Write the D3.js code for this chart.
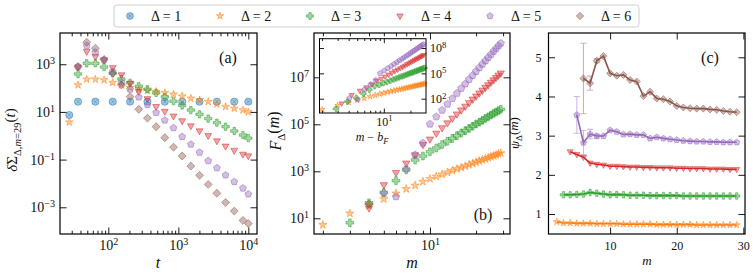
<!DOCTYPE html>
<html>
<head>
<meta charset="utf-8">
<script src="https://cdn.jsdelivr.net/npm/d3@7"></script>
<style>
body { margin: 0; background: #fff; }
svg text { font-family: "Liberation Serif", "DejaVu Serif", serif !important; fill: #111; }
</style>
</head>
<body>
<div id="chart"></div>
<script>
// ---- data ----
const deltaLabels = ["Δ = 1", "Δ = 2", "Δ = 3", "Δ = 4", "Δ = 5", "Δ = 6"];
const colors = ["#1f77b4", "#ff7f0e", "#2ca02c", "#d62728", "#9467bd", "#8c564b"];
const shapes = ["circle", "star", "plus", "tri", "pent", "diam"];

// panel (a): time grid and log10 of deltaSigma for each Delta
const tGrid = [27.7, 36.9, 49.1, 65.3, 86.9, 115.6, 153.8, 204.6, 272.3, 362.2, 482, 641,
               853, 1135, 1510, 2009, 2673, 3556, 4732, 6295, 8375, 10000];
const sigmaD1 = [0.87, 1.43, null, 1.43, null, 1.43, null, 1.43, null, 1.43, null, 1.43,
                 null, 1.43, null, 1.43, null, 1.43, null, 1.43, null, 1.43];
const sigmaD2 = [0.57, 2.13, 2.37, 2.37, 2.34, 2.23, 2.13, 2.02, 1.95, 1.9, 1.85, 1.8,
                 1.74, 1.66, 1.57, 1.5, 1.43, 1.33, 1.22, 1.15, 1.08, 1.0];
const sigmaD3 = [null, 2.59, 3.04, 3.04, 2.88, 2.62, 2.38, 2.22, 2.08, 1.95, 1.8, 1.63,
                 1.45, 1.27, 1.08, 0.9, 0.72, 0.55, 0.38, 0.2, 0.03, -0.1];
const sigmaD4 = [null, 2.88, 3.53, 3.32, 3.18, 2.85, 2.55, 2.2, 1.85, 1.55, 1.22, 1.02,
                 0.82, 0.62, 0.41, 0.2, 0.0, -0.22, -0.44, -0.62, -0.78, -0.85];
const sigmaD5 = [null, 2.9, 3.78, 3.5, 3.18, 2.7, 2.25, 1.95, 1.62, 1.3, 0.97, 0.65,
                 0.33, -0.04, -0.36, -0.7, -1.05, -1.35, -1.65, -1.93, -2.2, -2.45];
const sigmaD6 = [null, 2.9, 3.92, 3.67, 3.2, 2.62, 2.13, 1.64, 1.11, 0.74, 0.38, -0.08,
                 -0.48, -0.85, -1.27, -1.66, -2.04, -2.41, -2.8, -3.16, -3.55, -3.68];

// panel (b): m = 2..29, log10 F_Delta(m)
const mValues = [2, 3, 4, 5, 6, 7, 8, 9, 10, 11, 12, 13, 14, 15, 16, 17, 18, 19, 20, 21, 22, 23, 24, 25, 26, 27, 28, 29];
const logF2 = [0.72, 1.21, 1.55, 1.82, 2.06, 2.25, 2.4, 2.56, 2.68, 2.78, 2.87, 2.95, 3.03, 3.10,
               3.16, 3.22, 3.28, 3.34, 3.39, 3.44, 3.49, 3.53, 3.58, 3.62, 3.66, 3.70, 3.74, 3.77];
const logF3 = [null, 0.81, 1.66, 2.1, 2.6, 3.06, 3.48, 3.65, 3.83, 3.99, 4.14, 4.28, 4.40, 4.52,
               4.63, 4.73, 4.83, 4.92, 5.01, 5.09, 5.17, 5.25, 5.32, 5.39, 5.46, 5.52, 5.58, 5.64];
const logF4 = [null, null, 1.43, 2.42, 2.94, 3.34, 3.69, 4.13, 4.36, 4.61, 4.84, 5.05, 5.25, 5.43,
               5.60, 5.76, 5.91, 6.06, 6.19, 6.32, 6.44, 6.56, 6.67, 6.78, 6.88, 6.98, 7.08, 7.17];
const logF5 = [null, null, null, 2.06, 1.92, 3.1, 3.7, 4.2, 5.01, 5.32, 5.60, 5.86, 6.10, 6.32,
               6.53, 6.72, 6.91, 7.08, 7.25, 7.41, 7.56, 7.70, 7.84, 7.97, 8.10, 8.22, 8.34, 8.45];
const logF6 = [null, null, 1.6, null, null, null, null, null, null, null, null, null, null, null,
               null, null, null, null, null, null, null, null, null, null, null, null, null, null];
// inset shift b_F for Delta = 2..5
const bF = [0, 0.13, 0.67, 0.93];

// panel (c): psi_Delta(m), m = 2..29, and error bars
const psi2 = [0.80, 0.77, 0.77, 0.76, 0.76, 0.76, 0.75, 0.75, 0.75, 0.75, 0.74, 0.74, 0.74, 0.74,
              0.74, 0.73, 0.73, 0.73, 0.73, 0.73, 0.73, 0.72, 0.72, 0.72, 0.72, 0.72, 0.72, 0.72];
const psi3 = [null, 1.49, 1.49, 1.50, 1.51, 1.55, 1.53, 1.51, 1.49, 1.50, 1.49, 1.48, 1.48, 1.48,
              1.47, 1.47, 1.47, 1.47, 1.47, 1.46, 1.46, 1.46, 1.46, 1.46, 1.46, 1.46, 1.46, 1.46];
const psi4 = [null, null, 2.59, 2.52, 2.45, 2.30, 2.27, 2.25, 2.22, 2.22, 2.21, 2.20, 2.20, 2.19,
              2.19, 2.18, 2.18, 2.18, 2.17, 2.17, 2.16, 2.16, 2.16, 2.15, 2.15, 2.15, 2.14, 2.14];
const psi5 = [null, null, null, 3.53, 2.82, 3.04, 2.99, 2.99, 3.14, 3.10, 3.03, 3.04, 3.02, 3.02,
              2.93, 2.96, 2.93, 2.91, 2.89, 2.87, 2.86, 2.85, 2.85, 2.84, 2.84, 2.83, 2.83, 2.83];
const psi6 = [null, null, null, null, 4.46, 4.34, 4.91, 5.03, 4.59, 4.53, 4.55, 4.42, 4.38, 4.01,
              4.12, 3.95, 3.93, 3.87, 3.76, 3.72, 3.70, 3.69, 3.69, 3.67, 3.66, 3.63, 3.61, 3.60];
const psiErr5 = [0, 0, 0, 0.47, 0.31, 0.12, 0.05, 0, 0, 0, 0, 0, 0, 0, 0, 0, 0, 0, 0, 0, 0, 0, 0, 0, 0, 0, 0, 0];
const psiErr6 = [0, 0, 0, 0, 0.9, 0.18, 0.05, 0, 0, 0, 0, 0, 0, 0, 0, 0, 0, 0, 0, 0, 0, 0, 0, 0, 0, 0, 0, 0];

// ---- drawing ----
const svg = d3.select("#chart").append("svg")
    .attr("width", 753)
    .attr("height", 276)
    .attr("font-family", "'Liberation Serif', serif");

function markerPath(kind, r) {
    if (kind === "circle") return d3.symbol(d3.symbolCircle, Math.PI * r * r)();
    if (kind === "star") return d3.symbol(d3.symbolStar, (r * 1.15) * (r * 1.15) / 0.8908)();
    if (kind === "plus") return d3.symbol(d3.symbolCross, 2.3 * r * r)();
    let pts;
    if (kind === "tri") pts = [[0, r * 1.05], [-r * 0.95, -r * 0.6], [r * 0.95, -r * 0.6]];
    if (kind === "pent") pts = d3.range(5).map(i => {
        const a = -Math.PI / 2 + i * 2 * Math.PI / 5;
        return [r * Math.cos(a), r * Math.sin(a)];
    });
    if (kind === "diam") pts = [[0, -r * 1.1], [r * 1.1, 0], [0, r * 1.1], [-r * 1.1, 0]];
    return "M" + pts.map(p => p.join(",")).join("L") + "Z";
}

function drawMarkers(g, pts, i, r) {
    const sel = g.append("g");
    sel.selectAll("path").data(pts).join("path")
        .attr("d", markerPath(shapes[i], r))
        .attr("transform", p => `translate(${p[0]},${p[1]})`)
        .attr("fill", colors[i]).attr("fill-opacity", 0.42)
        .attr("stroke", colors[i]).attr("stroke-opacity", 0.5).attr("stroke-width", 1);
    if (shapes[i] === "circle") {
        const c = r * 0.55;
        sel.selectAll(".x").data(pts).join("path").attr("class", "x")
            .attr("d", `M${-c},${-c}L${c},${c}M${-c},${c}L${c},${-c}`)
            .attr("transform", p => `translate(${p[0]},${p[1]})`)
            .attr("stroke", colors[i]).attr("stroke-opacity", 0.45).attr("stroke-width", 0.8);
    }
}

function supText(sel) {
    sel.each(function (d) {
        const t = d3.select(this);
        const e = Math.round(Math.log10(d));
        t.text(null);
        t.append("tspan").text("10");
        t.append("tspan").attr("dy", "-0.5em").attr("font-size", "0.72em")
            .text(e < 0 ? "\u2212" + (-e) : String(e));
    });
}

// generic frame with inward ticks on all four sides
function frame(g, x, y, o) {
    const [x0, x1] = x.range();
    const [y1, y0] = y.range();
    const fs = o.fs;
    const addAxis = (axis, tx, ty, labels) => {
        const a = g.append("g").attr("transform", `translate(${tx},${ty})`).call(axis)
            .attr("font-family", null).attr("font-size", null);
        a.select(".domain").remove();
        a.selectAll(".tick line").attr("stroke", "#000").attr("stroke-width", 0.9);
        a.selectAll(".tick text").attr("font-size", fs).attr("fill", "#111");
        if (!labels) a.selectAll(".tick text").remove();
        return a;
    };
    const mk = (ax, scale, vals, size, pad, fmt) =>
        ax(scale).tickValues(vals).tickSize(-size).tickSizeOuter(0).tickPadding(pad).tickFormat(fmt || (() => ""));
    // bottom / top
    const b = addAxis(mk(d3.axisBottom, x, o.xMajor, o.major, o.xPad, o.xFmt), 0, y1, true);
    if (o.xSup) b.selectAll(".tick text").call(supText);
    if (o.xMinor) addAxis(mk(d3.axisBottom, x, o.xMinor, o.minor, 3), 0, y1, false);
    addAxis(mk(d3.axisTop, x, o.xMajor, o.major, 3), 0, y0, false);
    if (o.xMinor) addAxis(mk(d3.axisTop, x, o.xMinor, o.minor, 3), 0, y0, false);
    // left / right
    const l = addAxis(mk(d3.axisLeft, y, o.yMajor, o.major, o.yPad, o.yFmt), x0, 0, !o.yRight);
    if (o.ySup && !o.yRight) l.selectAll(".tick text").call(supText);
    const r = addAxis(mk(d3.axisRight, y, o.yMajor, o.major, o.yPad, o.yFmt), x1, 0, !!o.yRight);
    if (o.ySup && o.yRight) r.selectAll(".tick text").call(supText);
    g.append("rect").attr("x", x0).attr("y", y0).attr("width", x1 - x0).attr("height", y1 - y0)
        .attr("fill", "none").attr("stroke", "#000").attr("stroke-width", o.spine || 1.2);
}

function panelA() {
    const g = svg.append("g");
    const x = d3.scaleLog().domain([20.4, 13300]).range([60, 257]);
    const y = d3.scaleLog().domain([Math.pow(10, -4.12), Math.pow(10, 4.31)]).range([234, 33]);
    const series = [sigmaD1, sigmaD2, sigmaD3, sigmaD4, sigmaD5, sigmaD6];
    series.forEach((arr, i) => {
        const pts = tGrid.map((t, k) => [t, arr[k]]).filter(p => p[1] !== null)
            .map(p => [x(p[0]), y(Math.pow(10, p[1]))]);
        drawMarkers(g, pts, i, 3.6);
    });
    const minors = [30, 40, 50, 60, 70, 80, 90, 200, 300, 400, 500, 600, 700, 800, 900,
                    2000, 3000, 4000, 5000, 6000, 7000, 8000, 9000];
    frame(g, x, y, {xMajor: [1e2, 1e3, 1e4], xMinor: minors, yMajor: [1e-3, 1e-1, 1e1, 1e3],
        major: 6.5, minor: 3.3, fs: 14, xPad: 6, yPad: 5, xSup: true, ySup: true});
    g.append("text").attr("x", 228).attr("y", 63).attr("text-anchor", "middle")
        .attr("font-size", 16).text("(a)");
    g.append("text").attr("x", 158).attr("y", 268).attr("text-anchor", "middle")
        .attr("font-size", 16).attr("font-style", "italic").text("t");
    const yl = g.append("text").attr("transform", "translate(17,140) rotate(-90)")
        .attr("text-anchor", "middle").attr("font-size", 15);
    yl.append("tspan").attr("font-style", "italic").text("δ");
    yl.append("tspan").text("Σ");
    yl.append("tspan").attr("dy", "0.35em").attr("font-size", 10.5).text("Δ,");
    yl.append("tspan").attr("font-size", 10.5).attr("font-style", "italic").text("m");
    yl.append("tspan").attr("font-size", 10.5).text("=29");
    yl.append("tspan").attr("dy", "-0.35em").text("(");
    yl.append("tspan").attr("font-style", "italic").text("t");
    yl.append("tspan").text(")");
}

function panelB() {
    const g = svg.append("g");
    const x = d3.scaleLog().domain([1.75, 33.3]).range([314, 510]);
    const y = d3.scaleLog().domain([Math.pow(10, 0.332), Math.pow(10, 8.885)]).range([234, 33]);
    const series = [null, logF2, logF3, logF4, logF5, logF6];
    series.forEach((arr, i) => {
        if (!arr) return;
        const pts = mValues.map((m, k) => [m, arr[k]]).filter(p => p[1] !== null)
            .map(p => [x(p[0]), y(Math.pow(10, p[1]))]);
        drawMarkers(g, pts, i, 3.8);
    });
    frame(g, x, y, {xMajor: [10], xMinor: [2, 3, 4, 5, 6, 7, 8, 9, 20, 30], yMajor: [1e1, 1e3, 1e5, 1e7],
        major: 6.5, minor: 3.3, fs: 14, xPad: 6, yPad: 5, xSup: true, ySup: true});
    g.append("text").attr("x", 483).attr("y", 220).attr("text-anchor", "middle")
        .attr("font-size", 16).text("(b)");
    g.append("text").attr("x", 412).attr("y", 268).attr("text-anchor", "middle")
        .attr("font-size", 16).attr("font-style", "italic").text("m");
    const yl = g.append("text").attr("transform", "translate(281,131) rotate(-90)")
        .attr("text-anchor", "middle").attr("font-size", 16);
    yl.append("tspan").attr("font-style", "italic").text("F");
    yl.append("tspan").attr("dy", "0.35em").attr("font-size", 11).text("Δ");
    yl.append("tspan").attr("dy", "-0.35em").text("(");
    yl.append("tspan").attr("font-style", "italic").text("m");
    yl.append("tspan").text(")");

    // inset
    const ins = svg.append("g");
    const ix = d3.scaleLog().domain([1.87, 30]).range([319.5, 426]);
    const iy = d3.scaleLog().domain([Math.pow(10, 0.31), Math.pow(10, 9.1)]).range([113, 38.7]);
    ins.append("rect").attr("x", 319.5).attr("y", 38.7).attr("width", 106.5).attr("height", 74.3)
        .attr("fill", "#fff");
    [logF2, logF3, logF4, logF5].forEach((arr, j) => {
        const pts = mValues.map((m, k) => [m - bF[j], arr[k]]).filter(p => p[1] !== null)
            .map(p => [ix(p[0]), iy(Math.pow(10, p[1]))]);
        drawMarkers(ins, pts, j + 1, 2.7);
    });
    frame(ins, ix, iy, {xMajor: [10], xMinor: [2, 3, 4, 5, 6, 7, 8, 9, 20], yMajor: [1e2, 1e5, 1e8],
        major: 4.5, minor: 2.3, fs: 12, xPad: 4, yPad: 4, xSup: true, ySup: true, yRight: true, spine: 1});
    const il = ins.append("text").attr("x", 372).attr("y", 141).attr("text-anchor", "middle")
        .attr("font-size", 12);
    il.append("tspan").attr("font-style", "italic").text("m");
    il.append("tspan").text(" \u2212 ");
    il.append("tspan").attr("font-style", "italic").text("b");
    il.append("tspan").attr("dy", "0.3em").attr("font-size", 8.5).attr("font-style", "italic").text("F");
}

function panelC() {
    const g = svg.append("g");
    const x = d3.scaleLinear().domain([0.75, 30.25]).range([548.5, 745]);
    const y = d3.scaleLinear().domain([0.49, 5.62]).range([234, 33]);
    const series = [null, psi2, psi3, psi4, psi5, psi6];
    const errs = [null, null, null, null, psiErr5, psiErr6];
    series.forEach((arr, i) => {
        if (!arr) return;
        const pts = mValues.map((m, k) => ({m: m, v: arr[k], e: errs[i] ? errs[i][k] : 0}))
            .filter(p => p.v !== null);
        // error bars
        const eb = pts.filter(p => p.e > 0);
        g.append("g").selectAll("path").data(eb).join("path")
            .attr("d", p => {
                const cx = x(p.m), ya = y(p.v - p.e), yb = y(p.v + p.e);
                return `M${cx},${ya}L${cx},${yb}M${cx - 3},${ya}L${cx + 3},${ya}M${cx - 3},${yb}L${cx + 3},${yb}`;
            })
            .attr("fill", "none").attr("stroke", colors[i]).attr("stroke-opacity", 0.45).attr("stroke-width", 1.1);
        g.append("path").datum(pts)
            .attr("fill", "none").attr("stroke", colors[i]).attr("stroke-width", 1.6)
            .attr("d", d3.line().x(p => x(p.m)).y(p => y(p.v)));
        drawMarkers(g, pts.map(p => [x(p.m), y(p.v)]), i, 3.2);
    });
    frame(g, x, y, {xMajor: [10, 20, 30], yMajor: [1, 2, 3, 4, 5], major: 6.5, fs: 12,
        xPad: 7, yPad: 7, xFmt: d3.format("d"), yFmt: d3.format("d")});
    g.append("text").attr("x", 710).attr("y", 63).attr("text-anchor", "middle")
        .attr("font-size", 16).text("(c)");
    g.append("text").attr("x", 647).attr("y", 265).attr("text-anchor", "middle")
        .attr("font-size", 13).attr("font-style", "italic").text("m");
    const yl = g.append("text").attr("transform", "translate(519,133) rotate(-90)")
        .attr("text-anchor", "middle").attr("font-size", 13);
    yl.append("tspan").attr("font-style", "italic").text("ψ");
    yl.append("tspan").attr("dy", "0.35em").attr("font-size", 9).text("Δ");
    yl.append("tspan").attr("dy", "-0.35em").text("(");
    yl.append("tspan").attr("font-style", "italic").text("m");
    yl.append("tspan").text(")");
}

function legend() {
    const g = svg.append("g");
    g.append("rect").attr("x", 114).attr("y", 5).attr("width", 525).attr("height", 22).attr("rx", 3)
        .attr("fill", "#fff").attr("stroke", "#d0d0d0").attr("stroke-width", 1);
    deltaLabels.forEach((lab, i) => {
        drawMarkers(g, [[130 + 90 * i, 16]], i, 3.4);
        g.append("text").attr("x", 151 + 90 * i).attr("y", 20.5).attr("font-size", 14).text(lab);
    });
}

panelA();
panelB();
panelC();
legend();
</script>
</body>
</html>
